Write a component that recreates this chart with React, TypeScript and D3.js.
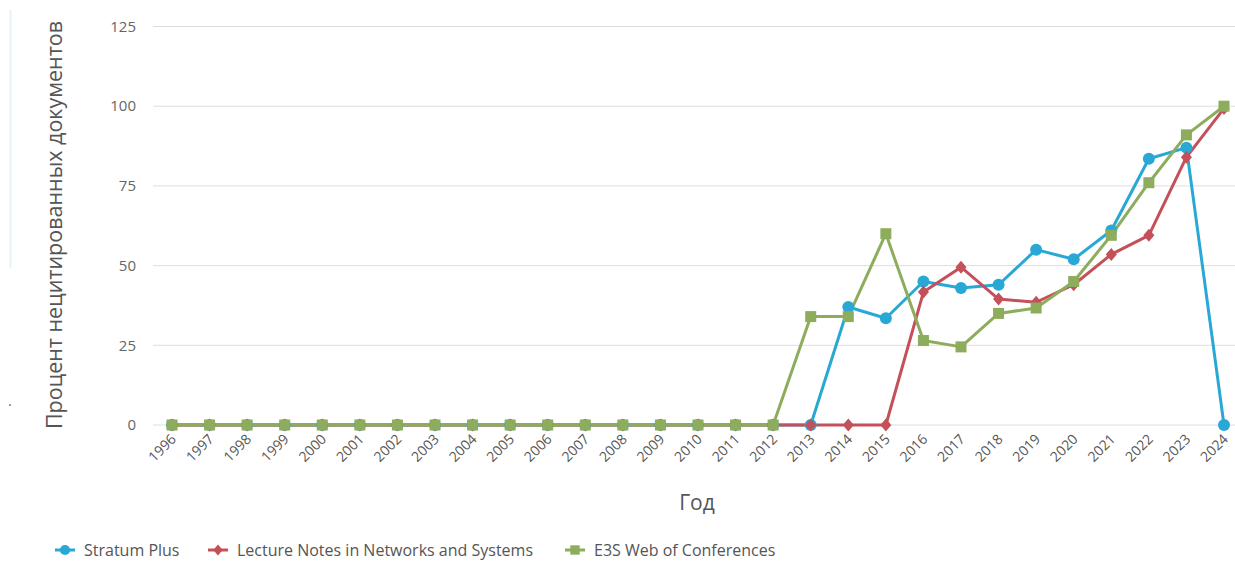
import React from "react";
import * as d3 from "d3";

const years: number[] = d3.range(1996, 2025);
const yTicks: number[] = [0, 25, 50, 75, 100, 125];

const stratumPlus: number[] = [
  0, 0, 0, 0, 0, 0, 0, 0, 0, 0, 0, 0, 0, 0, 0, 0, 0,
  0, 37, 33.5, 45, 43, 44, 55, 52, 61, 83.5, 87, 0,
];
const lectureNotes: number[] = [
  0, 0, 0, 0, 0, 0, 0, 0, 0, 0, 0, 0, 0, 0, 0, 0, 0,
  0, 0, 0, 41.7, 49.5, 39.5, 38.5, 44, 53.5, 59.5, 84, 99.3,
];
const e3s: number[] = [
  0, 0, 0, 0, 0, 0, 0, 0, 0, 0, 0, 0, 0, 0, 0, 0, 0,
  34, 34, 60, 26.5, 24.5, 35, 36.7, 45, 59.5, 76, 91, 100,
];

const seriesNames: string[] = [
  "Stratum Plus",
  "Lecture Notes in Networks and Systems",
  "E3S Web of Conferences",
];

const W = 1235;
const H = 562;
const FONT = "'Open Sans', 'Noto Sans', sans-serif";

const COLORS = ["#29a8d6", "#c4505a", "#8dad5d"];

export default function App() {
  const x = d3.scaleLinear().domain([1996, 2024]).range([172, 1224]);
  const y = d3.scaleLinear().domain([0, 125]).range([425, 26.5]);

  const data = [stratumPlus, lectureNotes, e3s];
  const line = d3
    .line<number>()
    .x((_, i) => x(years[i]))
    .y((d) => y(d));

  const marker = (k: number, cx: number, cy: number, key: string, scale = 1) => {
    const c = COLORS[k];
    if (k === 0) return <circle key={key} cx={cx} cy={cy} r={6 * scale} fill={c} />;
    if (k === 1) {
      const s = 6.5 * scale;
      return (
        <path
          key={key}
          d={`M${cx},${cy - s}L${cx + s * 0.85},${cy}L${cx},${cy + s}L${cx - s * 0.85},${cy}Z`}
          fill={c}
        />
      );
    }
    const s = 5.5 * scale;
    return <rect key={key} x={cx - s} y={cy - s} width={2 * s} height={2 * s} fill={c} />;
  };

  const legendX = [55, 208, 565];
  const legendY = 550;

  return (
    <svg
      width={W}
      height={H}
      style={{ position: "absolute", left: 0, top: 0, background: "#fff" }}
      fontFamily={FONT}
    >
      <rect x={0} y={0} width={W} height={H} fill="#fff" />
      {/* faint left border artifact */}
      <line x1={10.5} x2={10.5} y1={10} y2={268} stroke="#e3f3f7" strokeWidth={2} />
      <circle cx={10} cy={405} r={1} fill="#777" />

      {/* gridlines */}
      {yTicks.map((t) => (
        <g key={t}>
          <line x1={153} x2={W} y1={y(t)} y2={y(t)} stroke="#dedede" strokeWidth={1} />
          <text
            x={136}
            y={y(t)}
            dy="0.35em"
            textAnchor="end"
            fontSize={15}
            fill="#666"
          >
            {t}
          </text>
        </g>
      ))}

      {/* x tick labels */}
      {years.map((yr) => (
        <text
          key={yr}
          transform={`translate(${x(yr) + 5},${y(0) + 15}) rotate(-45)`}
          textAnchor="end"
          fontSize={14}
          fill="#555"
        >
          {yr}
        </text>
      ))}

      {/* lines */}
      {data.map((s, k) => (
        <path key={k} d={line(s) || ""} fill="none" stroke={COLORS[k]} strokeWidth={3} strokeLinejoin="round" />
      ))}
      {data.map((s, k) =>
        s.map((v, i) => marker(k, x(years[i]), y(v), `m${k}-${i}`))
      )}

      {/* axis titles */}
      <text
        transform={`translate(62,225) rotate(-90)`}
        textAnchor="middle"
        fontSize={21.5}
        fill="#555"
      >
        Процент нецитированных документов
      </text>
      <text x={697} y={510} textAnchor="middle" fontSize={21} fill="#555">
        Год
      </text>

      {/* legend */}
      {seriesNames.map((name, k) => (
        <g key={name}>
          <line
            x1={legendX[k]}
            x2={legendX[k] + 20}
            y1={legendY}
            y2={legendY}
            stroke={COLORS[k]}
            strokeWidth={3}
          />
          {marker(k, legendX[k] + 10, legendY, `lg${k}`, 0.85)}
          <text x={legendX[k] + 29} y={legendY} dy="0.35em" fontSize={16} fill="#555">
            {name}
          </text>
        </g>
      ))}
    </svg>
  );
}
